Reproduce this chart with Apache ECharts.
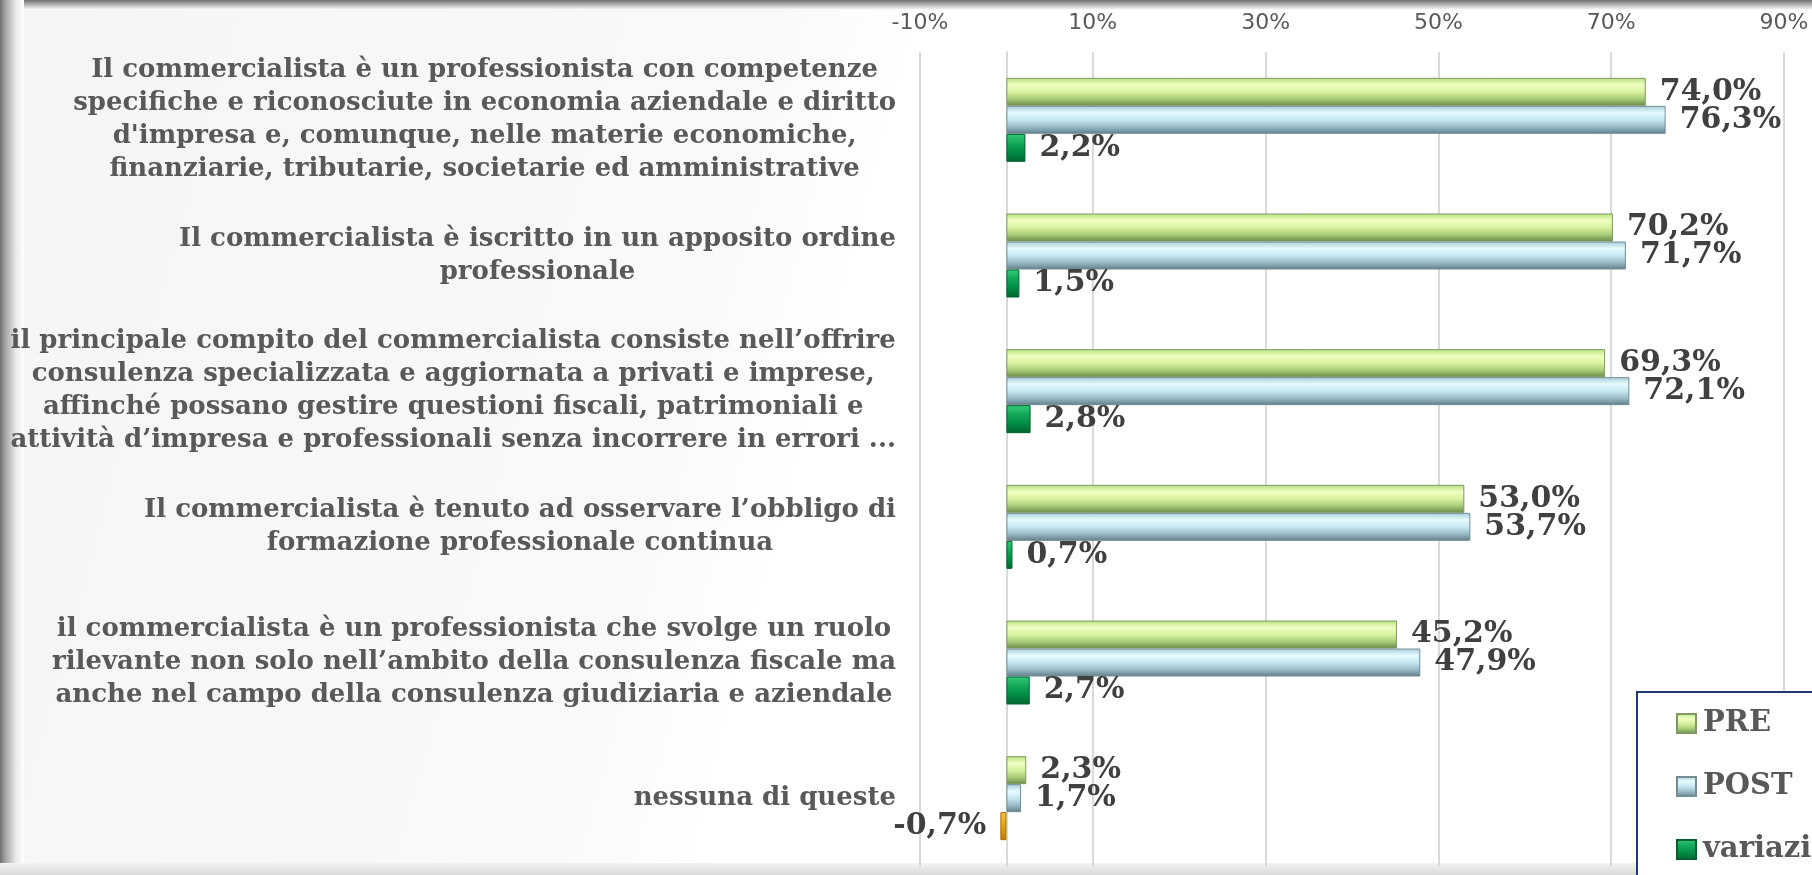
<!DOCTYPE html>
<html>
<head>
<meta charset="utf-8">
<title>Il commercialista - PRE / POST</title>
<script src="https://cdn.jsdelivr.net/npm/echarts@6/dist/echarts.min.js"></script>
<style>
  html, body { margin: 0; padding: 0; background: #ffffff; }
  .frame { position: relative; width: 1812px; height: 875px; overflow: hidden;
    background: linear-gradient(105deg, #f5f5f5 0%, #f9f9f9 38%, #ffffff 46%, #ffffff 100%); }
  .edgeTop { position: absolute; left: 0; top: 0; width: 1812px; height: 10px;
    background: linear-gradient(to bottom, #6f6f6f, #b9b9b9 50%, #ffffff); }
  .edgeLeft { position: absolute; left: 0; top: 0; width: 24px; height: 875px;
    background: linear-gradient(to right, #6f6f6f, #a9a9a9 25%, #e8e8e8 65%, #ffffff); }
  .edgeBottom { position: absolute; left: 0; bottom: 0; width: 1812px; height: 12px;
    background: linear-gradient(to bottom, #f2f2f2, #d9d9d9); }
  .chartStyle { position: absolute; left: 0; top: 0; width: 1812px; height: 875px; }
</style>
</head>
<body>
<div class="frame">
  <div class="edgeTop"></div>
  <div class="edgeLeft"></div>
  <div class="edgeBottom"></div>
  <div class="chartStyle" id="barChart"></div>
</div>
<script>
// categorie (dall'alto verso il basso)
var categories = [
  "Il commercialista è un professionista con competenze\nspecifiche e riconosciute in economia aziendale e diritto\nd'impresa e, comunque, nelle materie economiche,\nfinanziarie, tributarie, societarie ed amministrative",
  "Il commercialista è iscritto in un apposito ordine\nprofessionale",
  "il principale compito del commercialista consiste nell’offrire\nconsulenza specializzata e aggiornata a privati e imprese,\naffinché possano gestire questioni fiscali, patrimoniali e\nattività d’impresa e professionali senza incorrere in errori ...",
  "Il commercialista è tenuto ad osservare l’obbligo di\nformazione professionale continua",
  "il commercialista è un professionista che svolge un ruolo\nrilevante non solo nell’ambito della consulenza fiscale ma\nanche nel campo della consulenza giudiziaria e aziendale",
  "nessuna di queste"
];
var seriesNames = ["PRE", "POST", "variazione"];
var prePct = [74.0, 70.2, 69.3, 53.0, 45.2, 2.3];
var postPct = [76.3, 71.7, 72.1, 53.7, 47.9, 1.7];
var varPct = [2.2, 1.5, 2.8, 0.7, 2.7, -0.7];
// asse x: da -10% a 90%, un tick ogni 20%
var axisMin = -10;
var axisMax = 90;
var axisStep = 20;

var serifFont = "'DejaVu Serif', 'Liberation Serif', serif";

function grad(stops) {
  return new echarts.graphic.LinearGradient(0, 0, 0, 1, stops.map(function (c, i) {
    return { offset: i / (stops.length - 1), color: c };
  }));
}

var preColor = grad(["#b6de7c", "#f1ffc4", "#d8f29e", "#a9cd78", "#6b884a"]);
var postColor = grad(["#a6cad4", "#e6fcff", "#c6e7ef", "#99bdc7", "#617d86"]);
var varColor = grad(["#33cc7a", "#12a85a", "#008a44", "#006632"]);
var negColor = grad(["#f5c54a", "#e0a412", "#b87e00"]);

function fmt(v) {
  return v.toFixed(1).replace(".", ",") + "%";
}

var valueLabel = {
  show: true,
  position: "right",
  distance: 14,
  fontFamily: serifFont,
  fontWeight: "bold",
  fontSize: 30,
  color: "#404040",
  formatter: function (p) { return fmt(p.value); }
};

var myChart = echarts.init(document.getElementById("barChart"), null, { renderer: "canvas" });

var option = {
  backgroundColor: "transparent",
  animation: false,
  grid: { left: 920, right: 28, top: 52, bottom: 9, containLabel: false },
  legend: {
    orient: "vertical",
    left: 1637,
    top: 692,
    height: 400,
    padding: [17, 200, 40, 39],
    itemGap: 34,
    itemWidth: 19,
    itemHeight: 19,
    backgroundColor: "#ffffff",
    borderColor: "#1f3a6e",
    borderWidth: 2,
    borderRadius: 0,
    icon: "rect",
    data: seriesNames,
    textStyle: {
      fontFamily: serifFont,
      fontWeight: "bold",
      fontSize: 29,
      lineHeight: 28,
      color: "#595959",
      padding: [0, 0, 0, 2]
    }
  },
  xAxis: {
    type: "value",
    position: "top",
    min: axisMin,
    max: axisMax,
    interval: axisStep,
    axisLine: { show: false },
    axisTick: { show: false },
    axisLabel: {
      margin: 18,
      fontFamily: "'DejaVu Sans', sans-serif",
      fontSize: 22,
      color: "#595959",
      formatter: function (v) { return v + "%"; }
    },
    splitLine: { lineStyle: { color: "#d9d9d9", width: 2 } }
  },
  yAxis: {
    type: "category",
    inverse: true,
    data: categories,
    axisLine: { onZero: true, lineStyle: { color: "#d9d9d9", width: 2 } },
    axisTick: { show: false },
    axisLabel: {
      margin: 24,
      interval: 0,
      formatter: function (value) {
        return value.split("\n").map(function (l) { return "{c|" + l + "}"; }).join("\n");
      },
      rich: {
        c: {
          align: "center",
          fontFamily: serifFont,
          fontWeight: "bold",
          fontSize: 26,
          lineHeight: 33,
          color: "#595959"
        }
      }
    }
  },
  series: [
    {
      name: seriesNames[0],
      type: "bar",
      barWidth: 28,
      barGap: "0%",
      data: prePct,
      itemStyle: { color: preColor, borderColor: "#7e9a62", borderWidth: 1 },
      label: valueLabel
    },
    {
      name: seriesNames[1],
      type: "bar",
      barWidth: 28,
      barGap: "0%",
      data: postPct,
      itemStyle: { color: postColor, borderColor: "#728e96", borderWidth: 1 },
      label: valueLabel
    },
    {
      name: seriesNames[2],
      type: "bar",
      barWidth: 28,
      barGap: "0%",
      data: varPct.map(function (v) {
        if (v < 0) {
          return { value: v, itemStyle: { color: negColor, borderColor: "#a87000" }, label: { position: "left" } };
        }
        return v;
      }),
      itemStyle: { color: varColor, borderColor: "#00602e", borderWidth: 1 },
      label: valueLabel
    }
  ]
};

if (option && typeof option === "object") {
  myChart.clear();
  myChart.setOption(option, true);
}
</script>
</body>
</html>
